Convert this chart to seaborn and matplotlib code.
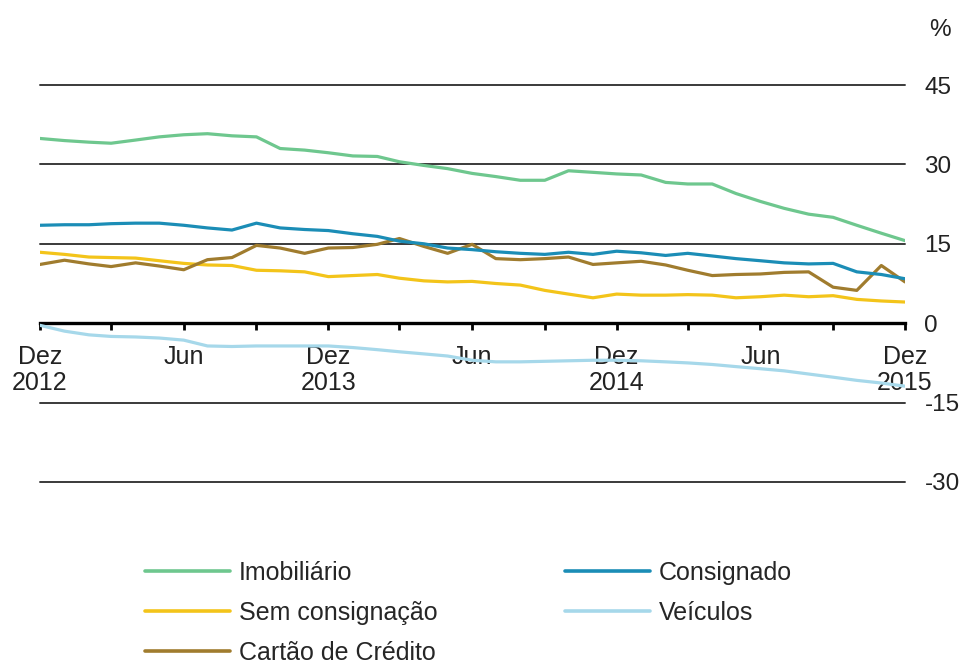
import matplotlib
matplotlib.use('Agg')
import matplotlib.pyplot as plt
import seaborn as sns
import pandas as pd

# Monthly series, Dez 2012 .. Dez 2015 (37 points), % 
months = pd.date_range('2012-12-01', '2015-12-01', freq='MS')

imobiliario = [34.9, 34.5, 34.2, 34.0, 34.6, 35.2, 35.6, 35.8, 35.4, 35.2,
               33.0, 32.7, 32.2, 31.6, 31.5, 30.5, 29.8, 29.2, 28.3, 27.7,
               27.0, 27.0, 28.8, 28.5, 28.2, 28.0, 26.6, 26.3, 26.3, 24.5,
               23.0, 21.7, 20.6, 20.0, 18.5, 17.0, 15.6]
consignado = [18.5, 18.6, 18.6, 18.8, 18.9, 18.9, 18.5, 18.0, 17.6, 18.9,
              18.0, 17.7, 17.5, 16.9, 16.4, 15.5, 15.0, 14.2, 13.9, 13.5,
              13.2, 13.0, 13.4, 13.0, 13.6, 13.3, 12.8, 13.2, 12.7, 12.2,
              11.8, 11.4, 11.2, 11.3, 9.7, 9.2, 8.4]
sem_consignacao = [13.4, 13.0, 12.5, 12.4, 12.3, 11.8, 11.3, 11.0, 10.9, 10.0,
                   9.9, 9.7, 8.8, 9.0, 9.2, 8.5, 8.0, 7.8, 7.9, 7.5,
                   7.2, 6.2, 5.5, 4.8, 5.5, 5.3, 5.3, 5.4, 5.3, 4.8,
                   5.0, 5.3, 5.0, 5.2, 4.5, 4.2, 4.0]
cartao = [11.1, 11.9, 11.2, 10.7, 11.4, 10.8, 10.1, 12.0, 12.4, 14.7,
          14.2, 13.2, 14.2, 14.3, 14.9, 16.0, 14.5, 13.2, 14.9, 12.2,
          12.0, 12.2, 12.5, 11.1, 11.4, 11.7, 11.0, 10.0, 9.0, 9.2,
          9.3, 9.6, 9.7, 6.8, 6.2, 10.9, 7.8]
veiculos = [-0.4, -1.5, -2.2, -2.5, -2.6, -2.8, -3.2, -4.3, -4.4, -4.3,
            -4.3, -4.3, -4.3, -4.6, -5.0, -5.4, -5.8, -6.2, -7.0, -7.3,
            -7.3, -7.2, -7.1, -7.0, -7.0, -7.1, -7.3, -7.5, -7.8, -8.2,
            -8.6, -9.0, -9.6, -10.2, -10.8, -11.3, -11.9]

series_names = ['Imobiliário', 'Sem consignação', 'Cartão de Crédito',
                'Consignado', 'Veículos']
series_colors = ['#6EC78E', '#F3C41A', '#A07C2E', '#1B8DB6', '#A6D8EA']

x_ticks = ['2012-12-01', '2013-06-01', '2013-12-01', '2014-06-01',
           '2014-12-01', '2015-06-01', '2015-12-01']
x_ticklabels = ['Dez\n2012', 'Jun', 'Dez\n2013', 'Jun', 'Dez\n2014', 'Jun',
                'Dez\n2015']
x_minor = ['2013-03-01', '2013-09-01', '2014-03-01', '2014-09-01',
           '2015-03-01', '2015-09-01']
y_ticks = [-30, -15, 0, 15, 30, 45]

df = pd.DataFrame({
    'Mês': months,
    'Imobiliário': imobiliario,
    'Sem consignação': sem_consignacao,
    'Cartão de Crédito': cartao,
    'Consignado': consignado,
    'Veículos': veiculos,
}).melt(id_vars='Mês', var_name='Série', value_name='Valor')

sns.set_theme(style='white')
plt.rcParams['font.family'] = ['Liberation Sans', 'DejaVu Sans']
FS = 18

fig = plt.figure(figsize=(9.66, 6.67), dpi=100)
ax = fig.add_axes([40 / 966, 1 - 482 / 667, 865 / 966, 397 / 667])

# horizontal reference lines
for yv in [45, 30, 15, -15, -30]:
    ax.axhline(yv, color='#3a3a3a', lw=1.4, zorder=0, clip_on=False)

sns.lineplot(data=df, x='Mês', y='Valor', hue='Série', hue_order=series_names,
             palette=dict(zip(series_names, series_colors)),
             linewidth=2.3, ax=ax, zorder=3)

handles, labels = ax.get_legend_handles_labels()
ax.get_legend().remove()

ax.set_xlim(months[0], months[-1])
ax.set_ylim(-30, 45)
ax.set_xlabel('')
ax.set_ylabel('')

for s in ['top', 'left', 'right']:
    ax.spines[s].set_visible(False)
ax.spines['bottom'].set_position(('data', 0))
ax.spines['bottom'].set_linewidth(2.4)
ax.spines['bottom'].set_color('black')
ax.spines['bottom'].set_zorder(2)

ax.set_xticks(pd.to_datetime(x_ticks))
ax.set_xticklabels(x_ticklabels, fontsize=FS, color='#222222', linespacing=1.1)
ax.set_xticks(pd.to_datetime(x_minor), minor=True)
ax.tick_params(axis='x', which='both', direction='out', length=5,
               width=2, color='black', pad=11, bottom=True)

ax.yaxis.tick_right()
ax.set_yticks(y_ticks)
ax.set_yticklabels([str(v) for v in y_ticks], fontsize=17.5, color='#222222')
ax.tick_params(axis='y', length=0, pad=14)
ax.grid(False)

fig.text(940 / 966, 1 - 30 / 667, '%', fontsize=17.5, color='#222222',
         ha='center', va='center')

fig.legend(handles, labels, loc='upper left', ncol=2,
           bbox_to_anchor=(145 / 966, 1 - 561 / 667), frameon=False,
           fontsize=FS, handlelength=3.4, handletextpad=0.35,
           columnspacing=5.1, labelspacing=0.64, borderpad=0,
           borderaxespad=0)
for lh in fig.legends[0].get_lines():
    lh.set_linewidth(2.6)

fig.savefig('out.png', dpi=100)
